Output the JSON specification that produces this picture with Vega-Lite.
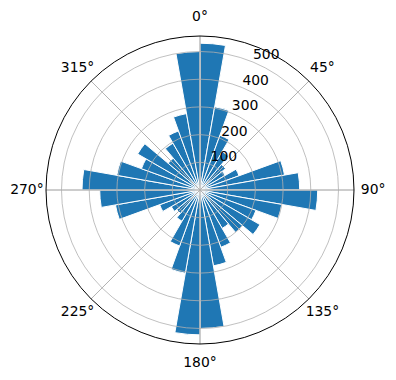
{
  "$schema": "https://vega.github.io/schema/vega-lite/v6.json",
  "width": 308,
  "height": 308,
  "autosize": {"type": "none"},
  "padding": {"left": 46, "top": 36, "right": 42, "bottom": 36},
  "view": {"stroke": null},
  "config": {"font": "DejaVu Sans"},
  "layer": [
    {
      "data": {"values": [
        {"start": 0, "end": 10, "count": 530},
        {"start": 10, "end": 20, "count": 305},
        {"start": 20, "end": 30, "count": 210},
        {"start": 30, "end": 40, "count": 160},
        {"start": 40, "end": 50, "count": 120},
        {"start": 50, "end": 60, "count": 105},
        {"start": 60, "end": 70, "count": 150},
        {"start": 70, "end": 80, "count": 310},
        {"start": 80, "end": 90, "count": 360},
        {"start": 90, "end": 100, "count": 425},
        {"start": 100, "end": 110, "count": 300},
        {"start": 110, "end": 120, "count": 215},
        {"start": 120, "end": 130, "count": 250},
        {"start": 130, "end": 140, "count": 200},
        {"start": 140, "end": 150, "count": 160},
        {"start": 150, "end": 160, "count": 220},
        {"start": 160, "end": 170, "count": 278},
        {"start": 170, "end": 180, "count": 500},
        {"start": 180, "end": 190, "count": 523},
        {"start": 190, "end": 200, "count": 305},
        {"start": 200, "end": 210, "count": 215},
        {"start": 210, "end": 220, "count": 130},
        {"start": 220, "end": 230, "count": 110},
        {"start": 230, "end": 240, "count": 120},
        {"start": 240, "end": 250, "count": 155},
        {"start": 250, "end": 260, "count": 310},
        {"start": 260, "end": 270, "count": 362},
        {"start": 270, "end": 280, "count": 426},
        {"start": 280, "end": 290, "count": 305},
        {"start": 290, "end": 300, "count": 225},
        {"start": 300, "end": 310, "count": 260},
        {"start": 310, "end": 320, "count": 150},
        {"start": 320, "end": 330, "count": 195},
        {"start": 330, "end": 340, "count": 227},
        {"start": 340, "end": 350, "count": 280},
        {"start": 350, "end": 360, "count": 500}
      ]},
      "mark": {"type": "arc", "fill": "#1f77b4", "stroke": "white", "strokeWidth": 1},
      "encoding": {
        "theta": {"field": "start", "type": "quantitative", "stack": null, "scale": {"domain": [0, 360], "range": [0, 6.283185307179586], "nice": false, "zero": false}},
        "theta2": {"field": "end"},
        "radius": {"field": "count", "type": "quantitative", "stack": null, "scale": {"type": "linear", "domain": [0, 556], "range": [0, 154], "nice": false, "zero": true}}
      }
    },
    {
      "data": {"values": [{"r": 100}, {"r": 200}, {"r": 300}, {"r": 400}, {"r": 500}]},
      "mark": {"type": "arc", "filled": false, "fill": null, "stroke": "#b0b0b0", "strokeWidth": 0.8},
      "encoding": {
        "theta": {"datum": 0, "type": "quantitative", "stack": null},
        "theta2": {"datum": 360},
        "radius": {"field": "r", "type": "quantitative", "stack": null}
      }
    },
    {
      "data": {"values": [{"angle": 0}, {"angle": 45}, {"angle": 90}, {"angle": 135}, {"angle": 180}, {"angle": 225}, {"angle": 270}, {"angle": 315}]},
      "mark": {"type": "arc", "filled": false, "fill": null, "stroke": "#b0b0b0", "strokeWidth": 0.8},
      "encoding": {
        "theta": {"field": "angle", "type": "quantitative", "stack": null},
        "theta2": {"field": "angle"},
        "radius": {"datum": 556, "type": "quantitative", "stack": null}
      }
    },
    {
      "data": {"values": [{"edge": 556}]},
      "mark": {"type": "arc", "filled": false, "fill": null, "stroke": "black", "strokeWidth": 1},
      "encoding": {
        "theta": {"datum": 0, "type": "quantitative", "stack": null},
        "theta2": {"datum": 360},
        "radius": {"field": "edge", "type": "quantitative", "stack": null}
      }
    },
    {
      "data": {"values": [
        {"angle": 0, "label": "0°"}, {"angle": 45, "label": "45°"}, {"angle": 90, "label": "90°"}, {"angle": 135, "label": "135°"},
        {"angle": 180, "label": "180°"}, {"angle": 225, "label": "225°"}, {"angle": 270, "label": "270°"}, {"angle": 315, "label": "315°"}
      ]},
      "mark": {"type": "text", "fontSize": 13.9, "align": "center", "baseline": "middle", "color": "black"},
      "encoding": {
        "theta": {"field": "angle", "type": "quantitative", "stack": null},
        "radius": {"datum": 625, "type": "quantitative", "stack": null},
        "text": {"field": "label"}
      }
    },
    {
      "data": {"values": [{"r": 100, "label": "100"}, {"r": 200, "label": "200"}, {"r": 300, "label": "300"}, {"r": 400, "label": "400"}, {"r": 500, "label": "500"}]},
      "mark": {"type": "text", "fontSize": 13.9, "align": "left", "baseline": "bottom", "color": "black"},
      "encoding": {
        "theta": {"datum": 22.5, "type": "quantitative", "stack": null},
        "radius": {"field": "r", "type": "quantitative", "stack": null},
        "text": {"field": "label"}
      }
    }
  ]
}
